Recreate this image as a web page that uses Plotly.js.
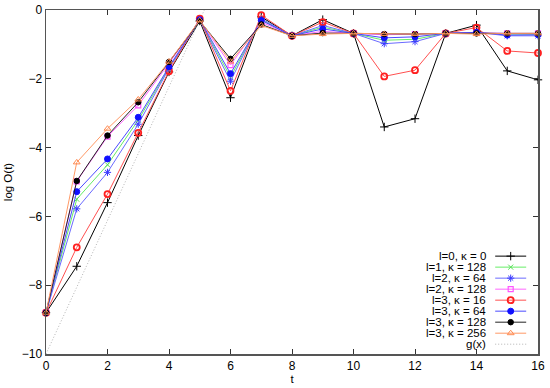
<!DOCTYPE html>
<html>
<head>
<meta charset="utf-8">
<script src="https://cdn.plot.ly/plotly-3.0.1.min.js"></script>
<style>
  html, body { margin: 0; padding: 0; background: #fff; }
  #chart { width: 550px; height: 388px; }
</style>
</head>
<body>
<div id="chart"></div>
<script>
const t = [0, 1, 2, 3, 4, 5, 6, 7, 8, 9, 10, 11, 12, 13, 14, 15, 16];

const l0k0   = [-8.8, -7.45, -5.6, -3.65, -1.8, -0.32, -2.55, -0.2, -0.75, -0.28, -0.68, -3.4, -3.16, -0.68, -0.44, -1.77, -2.03];
const l1k128 = [-8.8, -5.5, -4.5, -3.2, -1.68, -0.3, -1.95, -0.28, -0.75, -0.5, -0.68, -0.88, -0.85, -0.68, -0.65, -0.7, -0.7];
const l2k64  = [-8.8, -5.78, -4.72, -3.32, -1.7, -0.3, -2.07, -0.25, -0.75, -0.45, -0.68, -0.98, -0.92, -0.68, -0.65, -0.75, -0.75];
const l2k128 = [-8.8, -4.98, -3.68, -2.77, -1.55, -0.3, -1.6, -0.35, -0.75, -0.62, -0.68, -0.72, -0.7, -0.68, -0.66, -0.68, -0.68];
const l3k16  = [-8.8, -6.9, -5.35, -3.57, -1.78, -0.25, -2.35, -0.15, -0.75, -0.35, -0.68, -1.93, -1.75, -0.68, -0.51, -1.19, -1.25];
const l3k64  = [-8.8, -5.28, -4.33, -3.12, -1.65, -0.28, -1.85, -0.3, -0.75, -0.55, -0.68, -0.81, -0.78, -0.68, -0.65, -0.73, -0.72];
const l3k128 = [-8.8, -4.97, -3.65, -2.68, -1.51, -0.32, -1.42, -0.42, -0.75, -0.67, -0.68, -0.7, -0.7, -0.68, -0.68, -0.68, -0.68];
const l3k256 = [-8.8, -4.43, -3.45, -2.6, -1.5, -0.3, -1.5, -0.45, -0.75, -0.7, -0.68, -0.7, -0.7, -0.68, -0.7, -0.68, -0.68];

// reference line g(x), two end points
const gT = [0, 5.15];
const gV = [-10, 0];

const names = ['l=0, \u03ba = 0', 'l=1, \u03ba = 128', 'l=2, \u03ba = 64', 'l=2, \u03ba = 128',
               'l=3, \u03ba = 16', 'l=3, \u03ba = 64', 'l=3, \u03ba = 128', 'l=3, \u03ba = 256'];
const series = [l0k0, l1k128, l2k64, l2k128, l3k16, l3k64, l3k128, l3k256];

const styles = [
  { color: '#000000', symbol: 'cross-thin-open', size: 6, lw: 1 },
  { color: '#55dd55', symbol: 'x-thin-open', size: 5, lw: 1 },
  { color: '#3a3aff', symbol: 'asterisk-open', size: 6, lw: 1 },
  { color: '#ff55ff', symbol: 'square-open', size: 5, lw: 1.2 },
  { color: '#ff2020', symbol: 'circle-open', size: 6, lw: 1.8 },
  { color: '#1010ff', symbol: 'circle', size: 6, lw: 1 },
  { color: '#000000', symbol: 'circle', size: 5.5, lw: 1 },
  { color: '#ff8a50', symbol: 'triangle-up-open', size: 6, lw: 1 }
];
const lineColors = ['#000000', '#66ee66', '#6a6aff', '#ff66ff', '#ff5050', '#4a4aff', '#222222', '#ff9966'];

const font = 'Liberation Sans, Arial, sans-serif';

const traces = [];
traces.push({
  x: gT, y: gV, mode: 'lines', cliponaxis: false, hoverinfo: 'skip',
  line: { color: '#b4b4b4', width: 1, dash: '1px,2px' }, showlegend: false
});
series.forEach((s, i) => {
  traces.push({
    x: t, y: s, mode: 'lines+markers', name: names[i], cliponaxis: false, showlegend: false,
    line: { color: lineColors[i], width: 1 },
    marker: { color: styles[i].color, symbol: styles[i].symbol, size: styles[i].size,
              line: { color: styles[i].color, width: styles[i].lw } }
  });
});

// hand-made legend: text right-aligned, key sample to its right
const legText = 0.898, legK0 = 0.913, legK1 = 0.976;
const legTop = 0.2845, legStep = 0.032;
const annotations = [];
const legendNames = names.concat(['g(x)']);
legendNames.forEach((n, i) => {
  const yy = legTop - i * legStep;
  annotations.push({
    xref: 'paper', yref: 'paper', x: legText, y: yy, text: n, showarrow: false,
    xanchor: 'right', yanchor: 'middle', font: { family: font, size: 11.5, color: '#000' }
  });
  const isG = i === names.length;
  traces.push({
    x: [legK0, legK1], y: [yy, yy], xaxis: 'x2', yaxis: 'y2', mode: 'lines',
    showlegend: false, hoverinfo: 'skip', cliponaxis: false,
    line: isG ? { color: '#b4b4b4', width: 1, dash: '1px,2px' } : { color: lineColors[i], width: 1 }
  });
  if (!isG) {
    traces.push({
      x: [(legK0 + legK1) / 2], y: [yy], xaxis: 'x2', yaxis: 'y2', mode: 'markers',
      showlegend: false, hoverinfo: 'skip', cliponaxis: false,
      marker: { color: styles[i].color, symbol: styles[i].symbol, size: styles[i].size,
                line: { color: styles[i].color, width: styles[i].lw } }
    });
  }
});

const axisCommon = {
  showline: true, mirror: 'ticks', linecolor: '#555555', linewidth: 1.5,
  ticks: 'inside', ticklen: 5, tickwidth: 1, tickcolor: '#333333',
  showgrid: false, zeroline: false,
  tickfont: { family: font, size: 12, color: '#000' }
};

const layout = {
  width: 550, height: 388,
  margin: { l: 46, r: 12, t: 10, b: 34 },
  paper_bgcolor: '#fff', plot_bgcolor: '#fff',
  showlegend: false,
  xaxis: Object.assign({}, axisCommon, {
    range: [0, 16], tickvals: [0, 2, 4, 6, 8, 10, 12, 14, 16],
    title: { text: 't', font: { family: font, size: 11.5, color: '#000' }, standoff: 3 }
  }),
  yaxis: Object.assign({}, axisCommon, {
    range: [-10, 0], tickvals: [0, -2, -4, -6, -8, -10],
    title: { text: 'log O(t)', font: { family: font, size: 11.5, color: '#000' }, standoff: 6 }
  }),
  xaxis2: { overlaying: 'x', range: [0, 1], visible: false, fixedrange: true },
  yaxis2: { overlaying: 'y', range: [0, 1], visible: false, fixedrange: true },
  annotations: annotations
};

Plotly.newPlot('chart', traces, layout, { staticPlot: true });
</script>
</body>
</html>
